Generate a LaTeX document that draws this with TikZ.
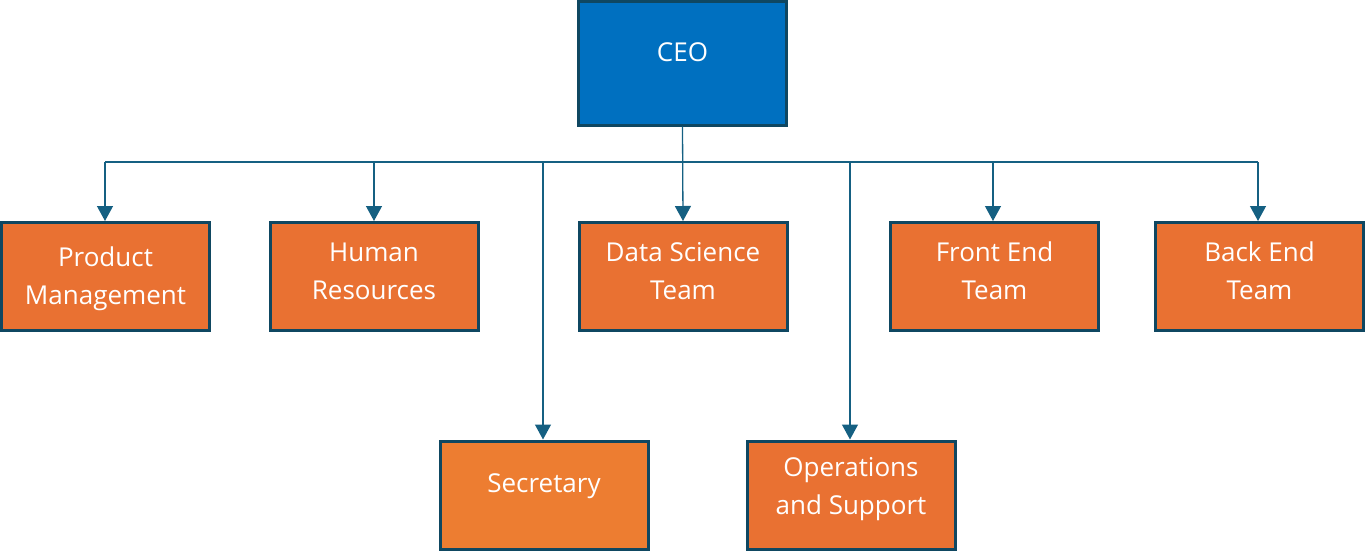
\documentclass[tikz,border=0pt]{standalone}
\usepackage{fontspec}
\setmainfont{Open Sans}
\usetikzlibrary{arrows.meta}
\definecolor{orgA}{HTML}{E97132}
\definecolor{orgB}{HTML}{ED7D31}
\definecolor{ceoblue}{HTML}{0070C0}
\definecolor{edge}{HTML}{0F4761}
\definecolor{conn}{HTML}{156082}
\tikzset{
  box/.style={draw=edge, line width=3pt, fill=orgA, minimum width=208pt, minimum height=108pt, inner sep=0pt},
  txt/.style={text=white, font=\fontsize{26}{38}\selectfont, align=center, inner sep=0pt},
  link/.style={draw=conn, line width=1.3pt},
  arr/.style={link, -{Triangle[width=16pt,length=15pt]}}
}
\begin{document}
\begin{tikzpicture}[x=1pt,y=-1pt]
\useasboundingbox (0,0) rectangle (1369,557);
% boxes
\node[box, fill=ceoblue, minimum height=124pt] (ceo) at (682.5,63) {};
\node[txt] (ceot) at (682.5,52) {CEO};
\node[box] (pm) at (105.5,276.5) {};
\node[txt] (pmt) at (105.5,279) {Product\\Management};
\node[box] (hr) at (374,276.5) {};
\node[txt] (hrt) at (374,271) {Human\\Resources};
\node[box] (ds) at (683,276.5) {};
\node[txt] (dst) at (683,271) {Data Science\\Team};
\node[box] (fe) at (994.5,276.5) {};
\node[txt] (fet) at (994.5,271) {Front End\\Team};
\node[box] (be) at (1259.5,276.5) {};
\node[txt] (bet) at (1259.5,271) {Back End\\Team};
\node[box, fill=orgB] (sec) at (544,495) {};
\node[txt] (sect) at (544,486) {Secretary};
\node[box] (ops) at (851,495) {};
\node[txt] (opst) at (851,489) {Operations\\and Support};
% bus
\coordinate (bpm) at (105,162);
\coordinate (bhr) at (374,162);
\coordinate (bsec) at (543,162);
\coordinate (bops) at (850,162);
\coordinate (bfe) at (993,162);
\coordinate (bbe) at (1258,162);
\draw[link] (bpm) -- (bbe);
\draw[arr] (ceo.south) -- (ds.north);
\draw[arr] (bpm) -- (bpm |- pm.north);
\draw[arr] (bhr) -- (bhr |- hr.north);
\draw[arr] (bsec) -- (bsec |- sec.north);
\draw[arr] (bops) -- (bops |- ops.north);
\draw[arr] (bfe) -- (bfe |- fe.north);
\draw[arr] (bbe) -- (bbe |- be.north);
\end{tikzpicture}
\end{document}
